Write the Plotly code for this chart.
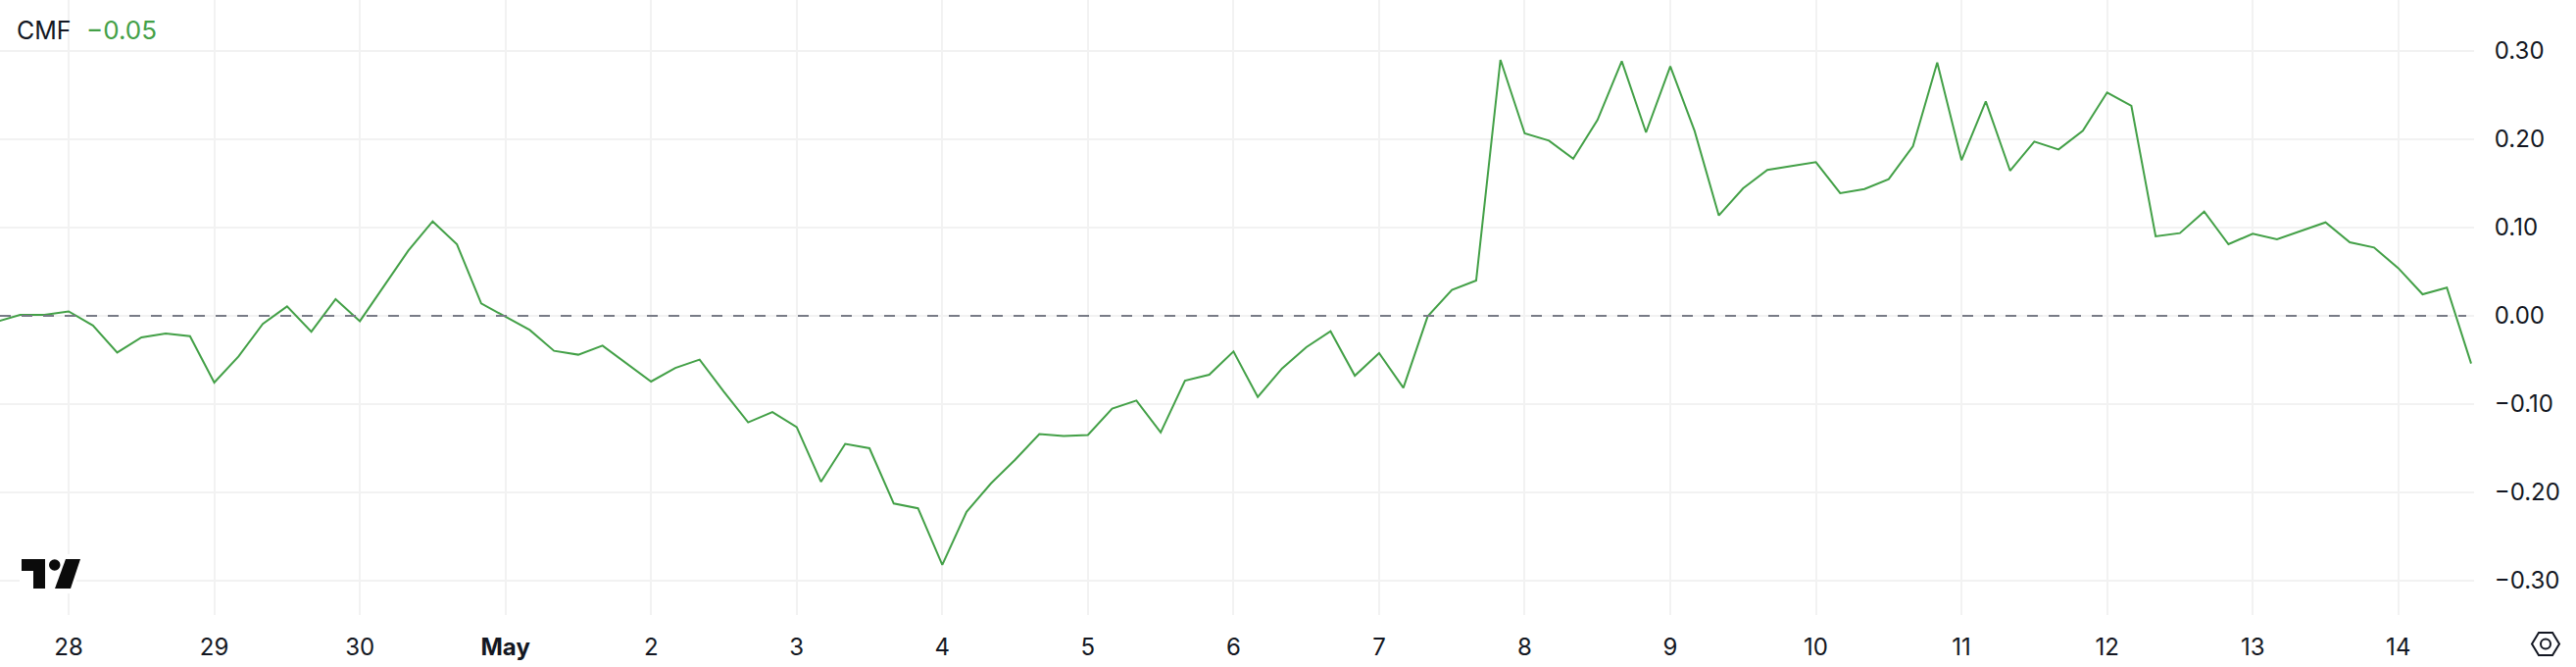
import pandas as pd
import plotly.graph_objects as go

W, H = 2628, 680
PL, PT, PR, PB = 0, 0, 2524, 627

cmf = [
    -0.007, 0.001, 0.001, 0.005, -0.011, -0.0415, -0.0244, -0.020, -0.023, -0.0756,
    -0.046, -0.009, 0.0107, -0.018, 0.019, -0.006, 0.034, 0.074, 0.107, 0.081,
    0.014, -0.001, -0.016, -0.0396, -0.044, -0.0337, -0.054, -0.0744, -0.059, -0.0496,
    -0.086, -0.1207, -0.109, -0.126, -0.188, -0.145, -0.150, -0.2126, -0.218, -0.282,
    -0.222, -0.190, -0.163, -0.134, -0.136, -0.135, -0.105, -0.096, -0.132, -0.0734,
    -0.0667, -0.0404, -0.0919, -0.0596, -0.0356, -0.0174, -0.0678, -0.0422, -0.0815, -0.0007,
    0.0293, 0.040, 0.290, 0.2067, 0.1985, 0.178, 0.2219, 0.2885, 0.2078, 0.2826,
    0.2096, 0.1137, 0.1444, 0.1652, 0.1696, 0.1741, 0.1389, 0.1437, 0.1548, 0.1922,
    0.287, 0.1763, 0.243, 0.1644, 0.1974, 0.1885, 0.2096, 0.253, 0.2378, 0.090,
    0.0937, 0.1181, 0.0811, 0.093, 0.0867, 0.096, 0.1059, 0.0833, 0.0774, 0.054,
    0.0244, 0.0319, -0.054,
]
times = pd.date_range("2025-04-27 12:00", periods=len(cmf), freq="4h")

x_tick_vals = ["2025-04-28", "2025-04-29", "2025-04-30", "2025-05-01", "2025-05-02", "2025-05-03",
               "2025-05-04", "2025-05-05", "2025-05-06", "2025-05-07", "2025-05-08", "2025-05-09",
               "2025-05-10", "2025-05-11", "2025-05-12", "2025-05-13", "2025-05-14"]
x_tick_text = ["28", "29", "30", "<b>May</b>", "2", "3", "4", "5", "6", "7", "8", "9",
               "10", "11", "12", "13", "14"]
y_tick_vals = [0.30, 0.20, 0.10, 0.00, -0.10, -0.20, -0.30]
y_tick_text = ["0.30", "0.20", "0.10", "0.00", "\u22120.10", "\u22120.20", "\u22120.30"]
x_range = ["2025-04-27 12:41", "2025-05-14 12:29"]
y_range = [-305 / 900, 322 / 900]
legend_name = "CMF"
legend_value = "\u22120.05"

GREEN = "#43a047"
INK = "#131722"
GRID = "#f2f2f2"
FONT = "Inter"


def px(x):
    return (x - PL) / (PR - PL)


def py(y):
    return 1 - (y - PT) / (PB - PT)


def path(points):
    return "M " + " L ".join(f"{px(a):.5f},{py(b):.5f}" for a, b in points) + " Z"


fig = go.Figure()
fig.add_trace(go.Scatter(x=times, y=cmf, mode="lines", line=dict(color=GREEN, width=2),
                         showlegend=False, hoverinfo="skip"))

shapes = [
    dict(type="line", xref="paper", yref="y", x0=0, x1=px(2516), y0=0, y1=0, layer="above",
         line=dict(color="#787b86", width=2, dash="11px,11px")),
    # TradingView mark
    dict(type="rect", xref="paper", yref="paper", x0=px(20), x1=px(78), y0=py(565), y1=py(605),
         fillcolor="white", line=dict(width=0), layer="above"),
    dict(type="path", xref="paper", yref="paper", fillcolor="#0b0b0b", line=dict(width=0), layer="above",
         path=path([(22, 570), (46, 570), (46, 600), (34, 600), (34, 582), (22, 582)])),
    dict(type="path", xref="paper", yref="paper", fillcolor="#0b0b0b", line=dict(width=0), layer="above",
         path=path([(67, 570), (82, 570), (72, 600), (56, 600)])),
    dict(type="circle", xref="paper", yref="paper", fillcolor="#0b0b0b", line=dict(width=0), layer="above",
         x0=px(50), x1=px(61.5), y0=py(570.3), y1=py(581.7)),
    # settings hexagon
    dict(type="path", xref="paper", yref="paper", fillcolor="white", line=dict(color=INK, width=2), layer="above",
         path=path([(2583, 656.5), (2590, 645), (2604, 645), (2611, 656.5), (2604, 668), (2590, 668)])),
    dict(type="circle", xref="paper", yref="paper", fillcolor="white", line=dict(color=INK, width=2), layer="above",
         x0=px(2592), x1=px(2602), y0=py(651.5), y1=py(661.5)),
]

annotations = [
    dict(text=legend_name, xref="paper", yref="paper", x=px(15), y=py(31), xanchor="left", yanchor="middle",
         showarrow=False, font=dict(family=FONT, size=25, color=INK)),
    dict(text=legend_value, xref="paper", yref="paper", x=px(86), y=py(31), xanchor="left", yanchor="middle",
         showarrow=False, font=dict(family=FONT, size=26, color=GREEN)),
]

fig.update_layout(
    width=W, height=H, paper_bgcolor="white", plot_bgcolor="white",
    margin=dict(l=PL, r=W - PR, t=PT, b=H - PB, pad=0),
    showlegend=False, shapes=shapes, annotations=annotations,
    font=dict(family=FONT, size=24, color=INK),
    xaxis=dict(type="date", range=x_range, tickmode="array", tickvals=x_tick_vals, ticktext=x_tick_text,
               showgrid=True, gridcolor=GRID, gridwidth=2, zeroline=False, showline=False,
               ticks="outside", ticklen=11, tickcolor="rgba(0,0,0,0)", tickangle=0,
               tickfont=dict(family=FONT, size=24, color=INK)),
    yaxis=dict(side="right", range=y_range, tickmode="array", tickvals=y_tick_vals, ticktext=y_tick_text,
               showgrid=True, gridcolor=GRID, gridwidth=2, zeroline=False, showline=False,
               ticks="outside", ticklen=15, tickcolor="rgba(0,0,0,0)",
               tickfont=dict(family=FONT, size=24, color=INK)),
)

fig.write_html("out.html", config=dict(displayModeBar=False),
               post_script="document.body.style.margin='0';document.body.style.overflow='hidden';")
